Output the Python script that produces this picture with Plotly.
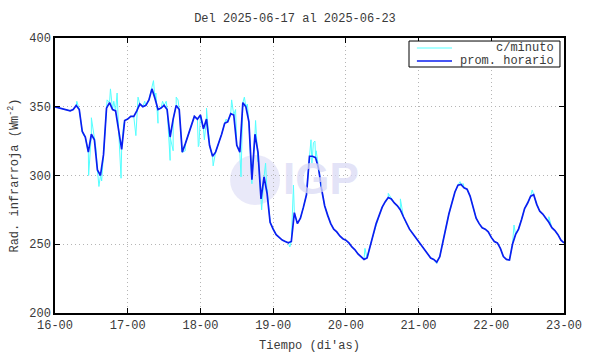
import plotly.graph_objects as go

# Hourly averages (prom. horario), hours since 2025-06-16 00:00
hourly_vals = [
    350, 349.5, 349, 348, 347.5, 347, 348, 351, 348, 332, 328, 317, 330, 326, 304, 300,
    315, 349, 353, 348, 347, 333, 319, 340,
    341, 343, 343, 347, 352, 350, 351, 355, 363, 356, 348, 349, 351, 348, 328, 341,
    351, 348, 317, 323, 330, 337, 343, 341,
    344, 334, 341, 322, 314, 317, 323, 330, 338, 339, 345, 344, 322, 317, 353, 350,
    339, 297, 330, 317, 283, 299, 287, 266,
    261, 257, 255, 253, 252, 251, 252, 273, 265, 269, 277, 286, 314, 314, 313, 305,
    290, 278, 271, 265, 261, 259, 256, 254,
    253, 251, 248, 246, 243, 241, 239, 240, 249, 257, 265, 271, 277, 281, 284, 283,
    280, 278, 275, 270, 265, 261, 258, 255,
    252, 249, 246, 243, 240, 239, 237, 241, 252, 263, 272, 280, 288, 293, 293.5, 291,
    290, 285, 276, 269, 265, 262, 261, 259,
    255, 252, 251, 247, 241, 239, 238.5, 250, 257, 261, 268, 276, 280, 285, 286, 279,
    274, 272, 269, 266, 262, 260, 257, 253,
    251,
]
hourly_t = list(range(len(hourly_vals)))

# Per-minute excursions visible above/below the hourly line (c/minuto)
spike_t = [7.2, 9.5, 10.6, 11.1, 12.0, 13.5, 14.5, 15.4, 17.2, 18.3, 19.4, 20.5, 21.8, 22.6,
           26.7, 27.4, 29.6, 32.5, 33.3, 34.0, 35.5, 36.7, 38.0, 39.0, 40.0, 40.6, 43.0, 47.5,
           47.3, 49.3, 50.0, 52.2, 56.5, 58.3, 59.6, 61.4, 62.5, 63.5, 65.0, 66.2, 67.0,
           68.2, 69.5, 70.0,
           77.5, 78.7, 84.5, 84.8, 85.3, 85.8, 86.2,
           102.3, 110.0, 114.0, 126.0, 133.7, 134.8, 151.5, 157.5, 163.0]
spike_v = [354, 329, 322, 300, 342, 320, 292, 296, 355, 363, 354, 360, 298, 336,
           329, 357, 354, 369, 360, 338, 354, 354, 311, 318, 357, 355, 318, 322,
           321, 326, 349, 307, 341, 355, 348, 299, 357, 352, 294, 340, 310,
           275, 309, 290,
           248, 293, 326, 309, 324, 325, 318,
           247, 287, 283, 236, 295.5, 294, 264, 289.5, 270]

x_tickvals = [0, 24, 48, 72, 96, 120, 144, 168]
x_ticktext = ["16-00", "17-00", "18-00", "19-00", "20-00", "21-00", "22-00", "23-00"]
y_tickvals = [200, 250, 300, 350, 400]

series_names = ["c/minuto", "prom. horario"]
series_colors = ["#55ffff", "#0a1ef0"]
series_widths = [1, 1.7]

pairs = sorted(list(zip(hourly_t, hourly_vals)) + list(zip(spike_t, spike_v)))
cyan_t = [p[0] for p in pairs]
cyan_v = [p[1] for p in pairs]

FONT = "Liberation Mono, DejaVu Sans Mono, monospace"
TXT = "#3a3a3a"

fig = go.Figure()
fig.add_trace(go.Scatter(x=cyan_t, y=cyan_v, mode="lines", name=series_names[0],
                         line=dict(color=series_colors[0], width=series_widths[0])))
fig.add_trace(go.Scatter(x=hourly_t, y=hourly_vals, mode="lines", name=series_names[1],
                         line=dict(color=series_colors[1], width=series_widths[1])))

# faint watermark
fig.add_shape(type="circle", xref="paper", yref="paper",
              x0=0.344, x1=0.442, y0=0.393, y1=0.575,
              fillcolor="rgba(218,218,245,0.6)", line=dict(width=0), layer="below")
fig.add_annotation(text="<b>IGP</b>", xref="paper", yref="paper", x=0.523, y=0.489,
                   showarrow=False, font=dict(family="Liberation Sans, Arial", size=44,
                                              color="rgba(218,218,245,0.75)"))

# gnuplot-style key box (top right, labels right-aligned)
fig.add_shape(type="rect", xref="paper", yref="paper", x0=0.6955, x1=0.9921,
              y0=0.8945, y1=0.989, line=dict(color="black", width=1), fillcolor="white")
for i, (nm, col, w) in enumerate(zip(series_names, series_colors, series_widths)):
    yy = 0.9636 - i * 0.0472
    fig.add_shape(type="line", xref="paper", yref="paper", x0=0.711, x1=0.780,
                  y0=yy, y1=yy, line=dict(color=col, width=w))
    fig.add_annotation(text=nm, xref="paper", yref="paper", x=0.9843, y=yy,
                       xanchor="right", yanchor="middle", showarrow=False,
                       font=dict(family=FONT, size=12, color=TXT))

axis_common = dict(showline=True, linecolor="black", linewidth=1.5, mirror="allticks",
                   ticks="inside", ticklen=5, tickcolor="black", automargin=False,
                   showgrid=True, gridcolor="#b5b5b5", griddash="1px,3px", gridwidth=1,
                   zeroline=False, tickfont=dict(family=FONT, size=12, color=TXT))

fig.update_layout(
    width=590, height=354,
    margin=dict(l=55, r=26, t=38, b=41),
    paper_bgcolor="white", plot_bgcolor="white",
    title=dict(text="Del 2025-06-17 al 2025-06-23", x=0.5, xanchor="center",
               y=0.95, yanchor="middle", font=dict(family=FONT, size=12, color=TXT)),
    xaxis=dict(range=[0, 168], tickvals=x_tickvals, ticktext=x_ticktext,
               title=dict(text="Tiempo (di'as)", font=dict(family=FONT, size=12, color=TXT),
                          standoff=8),
               **axis_common),
    yaxis=dict(range=[200, 400], tickvals=y_tickvals,
               title=dict(text="Rad. infrarroja (Wm<sup>-2</sup>)",
                          font=dict(family=FONT, size=12, color=TXT), standoff=8),
               **axis_common),
    showlegend=False,
)

fig.write_html("out.html", config={"displayModeBar": False},
               post_script="document.body.style.margin='0';")
